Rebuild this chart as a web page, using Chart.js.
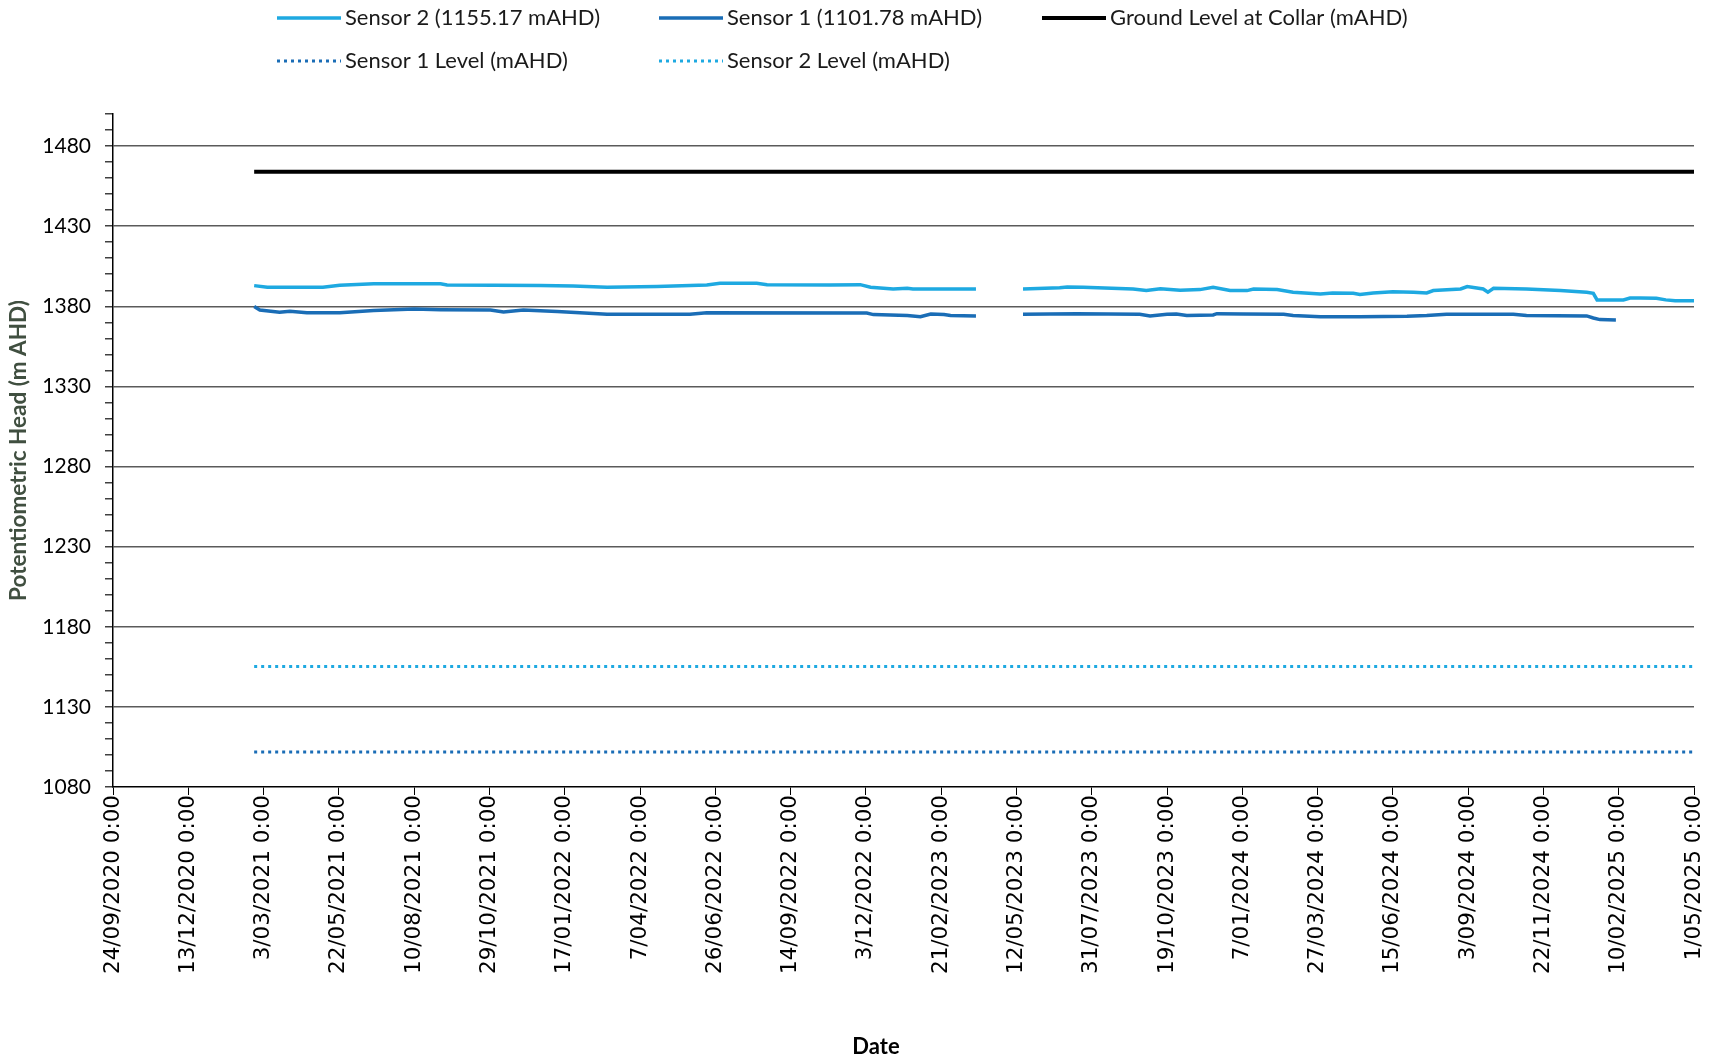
<!DOCTYPE html>
<html>
<head>
<meta charset="utf-8">
<script src="https://cdn.jsdelivr.net/npm/chart.js@4.4.1/dist/chart.umd.min.js"></script>
<style>
  html, body { margin: 0; padding: 0; background: #fff; }
  #wrap { width: 1717px; height: 1064px; }
</style>
</head>
<body>
<div id="wrap"><canvas id="chart" width="1717" height="1064"></canvas></div>
<script>
// x axis: 24/09/2020 to 1/05/2025, a tick every 80 days
const startDate = '2020-09-24';
const endDate = '2025-05-01';
const tickStepDays = 80;

// y axis: 1080 to 1500, labels every 50, minor ticks every 10
const yMin = 1080;
const yMax = 1500;
const yLabelStep = 50;
const yMinorStep = 10;

const sensor2Dates = [
  '2021-02-21', '2021-03-07', '2021-05-05', '2021-05-23', '2021-06-28', '2021-09-07',
  '2021-09-14', '2021-12-22', '2022-01-26', '2022-03-03', '2022-04-25', '2022-06-17',
  '2022-07-01', '2022-08-09', '2022-08-20', '2022-10-26', '2022-11-27', '2022-12-08',
  '2023-01-01', '2023-01-16', '2023-01-22', '2023-03-30', '2023-04-24', '2023-05-19',
  '2023-06-27', '2023-07-05', '2023-07-22', '2023-09-13', '2023-09-27', '2023-10-12',
  '2023-11-02', '2023-11-23', '2023-12-07', '2023-12-25', '2024-01-12', '2024-01-19',
  '2024-02-13', '2024-03-01', '2024-03-30', '2024-04-12', '2024-05-04', '2024-05-11',
  '2024-05-25', '2024-06-15', '2024-07-07', '2024-07-21', '2024-07-28', '2024-08-26',
  '2024-09-02', '2024-09-19', '2024-09-24', '2024-09-30', '2024-11-04', '2024-12-10',
  '2025-01-07', '2025-01-14', '2025-01-18', '2025-02-15', '2025-02-22', '2025-03-05',
  '2025-03-22', '2025-04-01', '2025-04-11', '2025-05-01',
];
const sensor2Values = [
  1392.9, 1391.9, 1391.9, 1393.1, 1394.0, 1394.0,
  1393.3, 1392.9, 1392.7, 1391.9, 1392.3, 1393.3,
  1394.4, 1394.4, 1393.5, 1393.3, 1393.5, 1391.9,
  1390.8, 1391.2, 1390.8, 1390.8, null, 1390.8,
  1391.5, 1392.1, 1391.9, 1390.8, 1389.8, 1391.0,
  1390.0, 1390.4, 1391.9, 1389.8, 1389.8, 1390.8,
  1390.4, 1388.8, 1387.7, 1388.3, 1388.1, 1387.3,
  1388.3, 1389.0, 1388.8, 1388.3, 1389.8, 1390.8,
  1392.3, 1390.8, 1388.8, 1391.2, 1390.8, 1389.8,
  1388.8, 1388.1, 1384.0, 1384.0, 1385.2, 1385.2,
  1385.0, 1384.0, 1383.4, 1383.4,
];

const sensor1Dates = [
  '2021-02-21', '2021-02-27', '2021-03-20', '2021-03-31', '2021-04-18', '2021-05-23',
  '2021-06-28', '2021-08-10', '2021-09-07', '2021-10-30', '2021-11-13', '2021-12-04',
  '2022-01-09', '2022-03-03', '2022-05-30', '2022-06-17', '2022-12-04', '2022-12-11',
  '2023-01-16', '2023-01-30', '2023-02-10', '2023-02-24', '2023-03-03', '2023-03-30',
  '2023-04-24', '2023-05-19', '2023-07-15', '2023-09-20', '2023-10-01', '2023-10-19',
  '2023-10-29', '2023-11-09', '2023-12-07', '2023-12-11', '2024-01-08', '2024-02-20',
  '2024-03-01', '2024-03-30', '2024-05-11', '2024-06-30', '2024-07-21', '2024-08-11',
  '2024-10-21', '2024-11-04', '2025-01-07', '2025-01-14', '2025-01-21', '2025-02-07',
];
const sensor1Values = [
  1379.8, 1377.7, 1376.3, 1376.9, 1376.0, 1376.0,
  1377.3, 1378.3, 1377.9, 1377.7, 1376.5, 1377.7,
  1376.7, 1375.0, 1375.0, 1376.0, 1375.8, 1374.8,
  1374.2, 1373.5, 1375.2, 1374.8, 1374.2, 1374.0,
  null, 1375.0, 1375.4, 1375.0, 1374.0, 1375.0,
  1375.2, 1374.2, 1374.6, 1375.4, 1375.2, 1375.0,
  1374.2, 1373.5, 1373.5, 1373.8, 1374.2, 1375.0,
  1375.0, 1374.2, 1374.0, 1372.7, 1371.7, 1371.5,
];

// constant reference levels
const levelDates = ['2021-02-21', '2025-05-01'];
const groundLevel = [1464, 1464];
const sensor1Level = [1101.78, 1101.78];
const sensor2Level = [1155.17, 1155.17];

const DAY = 86400000;
const toMs = (s) => Date.parse(s + 'T00:00:00Z');
const toPoints = (dates, values) => dates.map((d, i) => ({ x: toMs(d), y: values[i] }));

const formatDate = (ms) => {
  const d = new Date(Math.round(ms / DAY) * DAY);
  const mm = String(d.getUTCMonth() + 1).padStart(2, '0');
  return `${d.getUTCDate()}/${mm}/${d.getUTCFullYear()} 0:00`;
};

const lightBlue = '#1ea9e1';
const darkBlue = '#1a6db6';

// two-row legend laid out in fixed columns, like the original
const gridLegend = {
  id: 'gridLegend',
  afterDraw(chart, args, opts) {
    const ctx = chart.ctx;
    ctx.save();
    ctx.font = opts.font;
    ctx.textBaseline = 'middle';
    ctx.textAlign = 'left';
    opts.items.forEach(([index, col, row]) => {
      const ds = chart.data.datasets[index];
      const x = opts.columns[col];
      const y = opts.rows[row];
      ctx.beginPath();
      ctx.strokeStyle = ds.borderColor;
      ctx.lineWidth = ds.borderWidth;
      ctx.setLineDash(ds.borderDash || []);
      ctx.moveTo(x, y);
      ctx.lineTo(x + opts.sampleWidth, y);
      ctx.stroke();
      ctx.setLineDash([]);
      ctx.fillStyle = opts.color;
      ctx.fillText(ds.label, x + opts.sampleWidth + opts.gap, y);
    });
    ctx.restore();
  },
};

const isLabelTick = (v) => Math.round(v - yMin) % yLabelStep === 0;

const data = {
  datasets: [
    {
      label: 'Sensor 2 (1155.17 mAHD)',
      data: toPoints(sensor2Dates, sensor2Values),
      borderColor: lightBlue,
      borderWidth: 3.5,
    },
    {
      label: 'Sensor 1 (1101.78 mAHD)',
      data: toPoints(sensor1Dates, sensor1Values),
      borderColor: darkBlue,
      borderWidth: 3.5,
    },
    {
      label: 'Ground Level at Collar (mAHD)',
      data: toPoints(levelDates, groundLevel),
      borderColor: '#000000',
      borderWidth: 4,
    },
    {
      label: 'Sensor 1 Level (mAHD)',
      data: toPoints(levelDates, sensor1Level),
      borderColor: darkBlue,
      borderWidth: 3,
      borderDash: [3, 4],
    },
    {
      label: 'Sensor 2 Level (mAHD)',
      data: toPoints(levelDates, sensor2Level),
      borderColor: lightBlue,
      borderWidth: 3,
      borderDash: [3, 4],
    },
  ],
};

const config = {
  type: 'line',
  data: data,
  plugins: [gridLegend],
  options: {
    responsive: false,
    animation: false,
    spanGaps: false,
    elements: {
      point: { radius: 0 },
      line: { tension: 0, fill: false },
    },
    layout: {
      padding: { top: 114, right: 23, bottom: 0, left: 0 },
    },
    plugins: {
      legend: { display: false },
      tooltip: { enabled: false },
      gridLegend: {
        items: [[0, 0, 0], [1, 1, 0], [2, 2, 0], [3, 0, 1], [4, 1, 1]],
        columns: [277, 659, 1042],
        rows: [18, 61],
        sampleWidth: 64,
        gap: 4,
        font: '22px Lato',
        color: '#1a1a1a',
      },
    },
    scales: {
      x: {
        type: 'linear',
        min: toMs(startDate),
        max: toMs(endDate),
        afterFit: (scale) => {
          scale.height = 277;
          scale.paddingLeft = 0;
          scale.paddingRight = 0;
        },
        border: { color: '#000', width: 1.5 },
        grid: {
          drawOnChartArea: false,
          tickLength: 8,
          tickColor: '#000',
        },
        ticks: {
          stepSize: tickStepDays * DAY,
          autoSkip: false,
          minRotation: 90,
          maxRotation: 90,
          padding: 0,
          color: '#000',
          font: { family: "'DejaVu Sans', Verdana, sans-serif", size: 21.5 },
          callback: (value) => formatDate(value),
        },
        title: {
          display: true,
          text: 'Date\u2002\u2002\u2002\u2002\u2002',
          color: '#000',
          font: { family: 'Lato', size: 22, weight: 'bold' },
          padding: { top: 0, bottom: 4 },
        },
      },
      y: {
        type: 'linear',
        min: yMin,
        max: yMax,
        afterFit: (scale) => {
          scale.width = 113;
          scale.paddingTop = 0;
          scale.paddingBottom = 0;
        },
        border: { color: '#000', width: 1.5 },
        grid: {
          color: (ctx) =>
            ctx.tick && isLabelTick(ctx.tick.value) && ctx.tick.value !== yMin
              ? '#5a5a5a'
              : 'rgba(0,0,0,0)',
          lineWidth: 1.5,
          tickLength: 8,
          tickColor: '#404040',
        },
        ticks: {
          stepSize: yMinorStep,
          autoSkip: false,
          padding: 14,
          color: '#000',
          font: { family: 'Lato', size: 21 },
          callback: (value) => (isLabelTick(value) ? value : ''),
        },
        title: {
          display: true,
          text: 'Potentiometric Head (m AHD)',
          color: '#404f40',
          font: { family: 'Lato', size: 22.5, weight: 'bold' },
          padding: { top: 5, bottom: 0 },
        },
      },
    },
  },
};

new Chart(document.getElementById('chart'), config);
</script>
</body>
</html>
